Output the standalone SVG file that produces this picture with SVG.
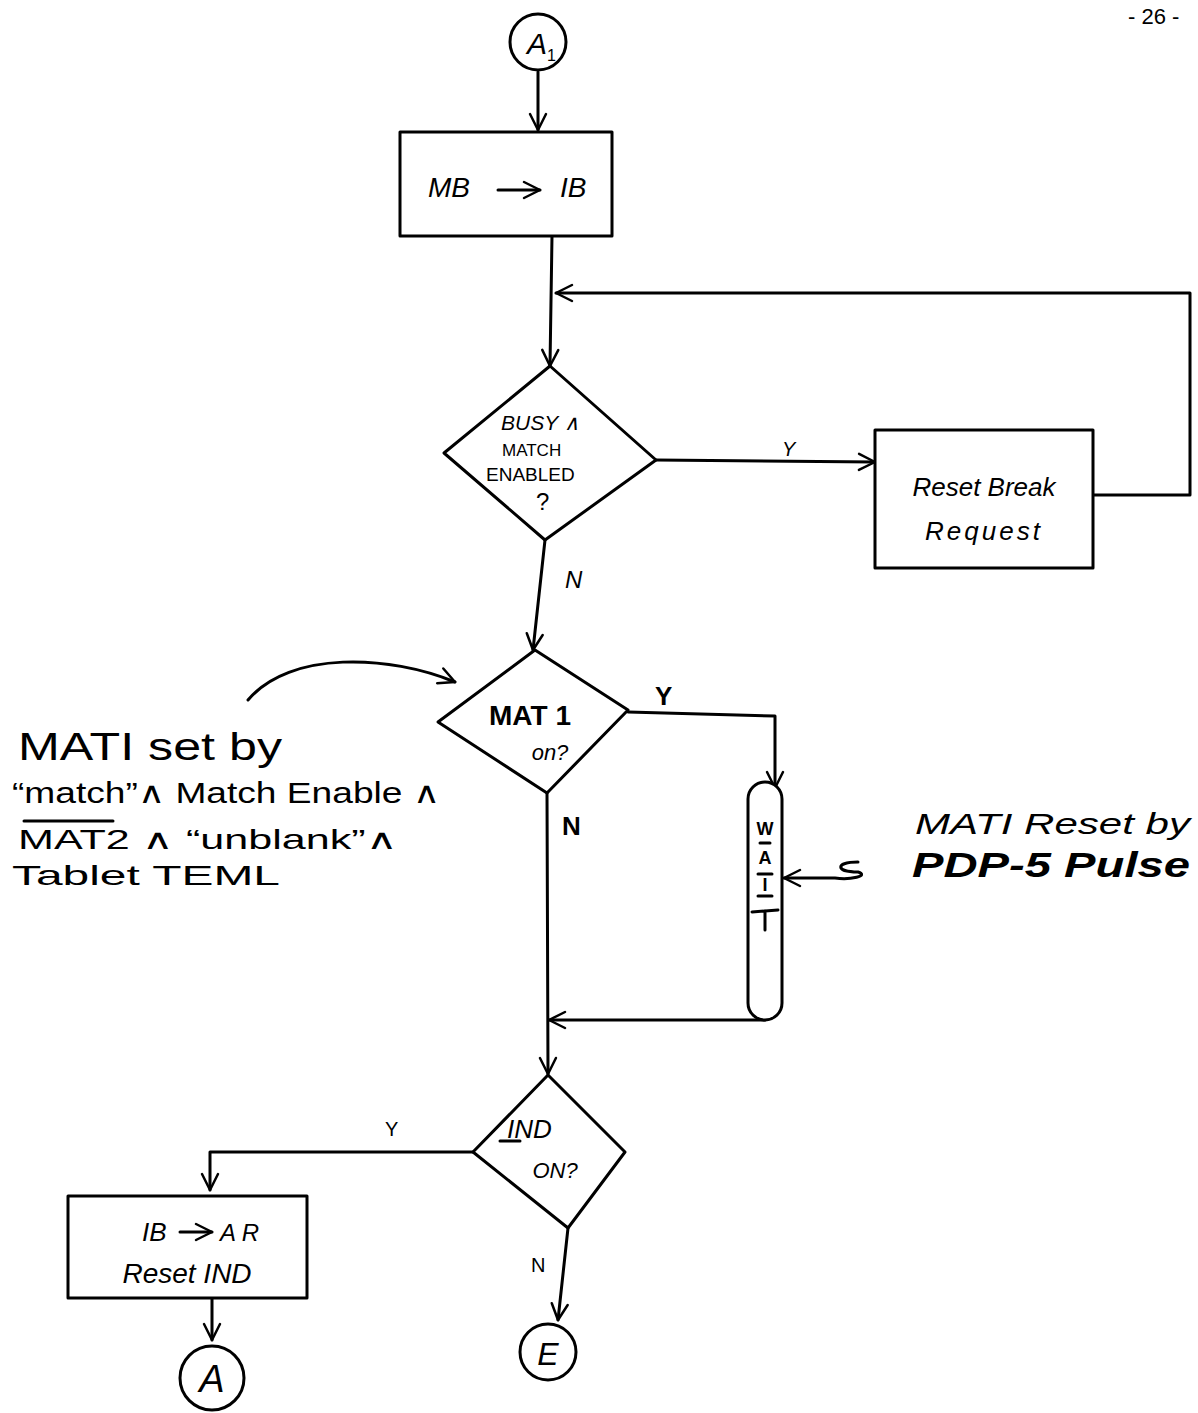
<svg xmlns="http://www.w3.org/2000/svg" width="1198" height="1413" viewBox="0 0 1198 1413">
<style>
.s{fill:none;stroke:#000;stroke-width:3;stroke-linecap:round;stroke-linejoin:round}
.w{fill:#fff;stroke:#000;stroke-width:3;stroke-linejoin:round}
text{font-family:"Liberation Sans",Arial,sans-serif;fill:#000}
.i{font-style:italic}
</style>
<defs>
<marker id="ah" viewBox="0 0 20 20" refX="18" refY="10" markerWidth="20" markerHeight="20" markerUnits="userSpaceOnUse" orient="auto">
<path d="M2,2 L18,10 L2,18" fill="none" stroke="#000" stroke-width="2.5" stroke-linecap="round" stroke-linejoin="round"/>
</marker>
</defs>
<rect width="1198" height="1413" fill="#fff"/>
<text x="1128" y="24" font-size="22">- 26 -</text>

<g id="connectors">
<path class="s" d="M538,72 L538,130" marker-end="url(#ah)"/>
<path class="s" d="M552,236 L550,366" marker-end="url(#ah)"/>
<path class="s" d="M1093,495 L1190,495 L1190,293 L556,293" marker-end="url(#ah)"/>
<path class="s" d="M656,460 L875,462" marker-end="url(#ah)"/>
<path class="s" d="M545,540 L533,650" marker-end="url(#ah)"/>
<path class="s" d="M628,712 L775,716 L775,788" marker-end="url(#ah)"/>
<path class="s" d="M547,793 L548,1074" marker-end="url(#ah)"/>
<path class="s" d="M765,1020 L549,1020" marker-end="url(#ah)"/>
<path class="s" d="M473,1152 L210,1152 L210,1190" marker-end="url(#ah)"/>
<path class="s" d="M212,1298 L212,1340" marker-end="url(#ah)"/>
<path class="s" d="M568,1228 L558,1320" marker-end="url(#ah)"/>
<path class="s" d="M248,700 C290,650 390,655 455,682" marker-end="url(#ah)"/>
<path class="s" d="M858,862 C835,862 835,872 858,872 C870,876 850,880 835,878 L784,878" marker-end="url(#ah)"/>
<text x="782" y="456" font-size="20" class="i">Y</text>
<text x="565" y="588" font-size="24" class="i">N</text>
<text x="655" y="705" font-size="26" font-weight="bold">Y</text>
<text x="562" y="835" font-size="26" font-weight="bold">N</text>
<text x="385" y="1136" font-size="20">Y</text>
<text x="531" y="1272" font-size="20">N</text>
</g>

<g id="node-A1">
<circle class="w" cx="538" cy="42" r="28"/>
<text x="527" y="54" font-size="30" class="i">A</text>
<text x="547" y="61" font-size="16">1</text>
</g>

<g id="node-mb-ib">
<rect class="w" x="400" y="132" width="212" height="104"/>
<text x="428" y="197" font-size="28" class="i">MB</text>
<path class="s" d="M498,190 L540,190" marker-end="url(#ah)"/>
<text x="560" y="197" font-size="28" class="i">IB</text>
</g>

<g id="node-busy">
<path class="w" d="M550,366 L656,460 L545,540 L444,453 Z"/>
<text x="501" y="430" font-size="21" class="i">BUSY ∧</text>
<text x="502" y="456" font-size="17">MATCH</text>
<text x="486" y="481" font-size="19">ENABLED</text>
<text x="536" y="510" font-size="24">?</text>
</g>

<g id="node-reset-break">
<rect class="w" x="875" y="430" width="218" height="138"/>
<text x="984" y="496" font-size="26" class="i" text-anchor="middle">Reset Break</text>
<text x="984" y="540" font-size="26" class="i" text-anchor="middle" letter-spacing="3">Request</text>
</g>

<g id="node-mat1">
<path class="w" d="M535,650 L628,710 L547,793 L438,722 Z"/>
<text x="530" y="725" font-size="28" font-weight="bold" text-anchor="middle">MAT 1</text>
<text x="550" y="760" font-size="22" class="i" text-anchor="middle">on?</text>
</g>

<g id="node-wait">
<rect class="w" x="748" y="782" width="34" height="238" rx="17" ry="17"/>
<text x="765" y="835" font-size="18" font-weight="bold" text-anchor="middle">W</text>
<path class="s" d="M760,843 L770,843" stroke-width="1.5"/>
<text x="765" y="864" font-size="18" font-weight="bold" text-anchor="middle">A</text>
<path class="s" d="M758,874 L772,874"/>
<text x="765" y="891" font-size="18" font-weight="bold" text-anchor="middle">I</text>
<path class="s" d="M758,896 L772,896"/>
<path class="s" d="M752,912 L778,910 M765,911 L765,930"/>
</g>

<g id="node-ind">
<path class="w" d="M548,1075 L625,1152 L568,1228 L473,1152 Z"/>
<text x="507" y="1138" font-size="26" class="i">IND</text>
<path class="s" d="M500,1141 L520,1141"/>
<text x="555" y="1178" font-size="22" class="i" text-anchor="middle">ON?</text>
</g>

<g id="node-ib-ar">
<rect class="w" x="68" y="1196" width="239" height="102"/>
<text x="142" y="1241" font-size="26" class="i">IB</text>
<path class="s" d="M180,1232 L212,1232" marker-end="url(#ah)"/>
<text x="220" y="1241" font-size="24" class="i">A R</text>
<text x="187" y="1283" font-size="28" class="i" text-anchor="middle">Reset IND</text>
</g>

<g id="node-A">
<circle class="w" cx="212" cy="1378" r="32"/>
<text x="212" y="1392" font-size="38" class="i" text-anchor="middle">A</text>
</g>

<g id="node-E">
<circle class="w" cx="548" cy="1352" r="28"/>
<text x="548" y="1365" font-size="32" class="i" text-anchor="middle">E</text>
</g>

<g id="note-set">
<text x="18" y="760" font-size="38" textLength="264" lengthAdjust="spacingAndGlyphs">MATI  set  by</text>
<text x="12" y="803" font-size="30" textLength="428" lengthAdjust="spacingAndGlyphs">“match”∧ Match Enable ∧</text>
<path class="s" d="M24,821 L113,821"/>
<text x="18" y="849" font-size="28" textLength="380" lengthAdjust="spacingAndGlyphs">MAT2  ∧ “unblank”∧</text>
<text x="12" y="885" font-size="28" textLength="268" lengthAdjust="spacingAndGlyphs">Tablet TEML</text>
</g>

<g id="note-reset">
<text x="915" y="834" font-size="29" class="i" textLength="275" lengthAdjust="spacingAndGlyphs">MATI  Reset by</text>
<text x="912" y="877" font-size="35" class="i" font-weight="bold" textLength="278" lengthAdjust="spacingAndGlyphs">PDP-5  Pulse</text>
</g>
</svg>
